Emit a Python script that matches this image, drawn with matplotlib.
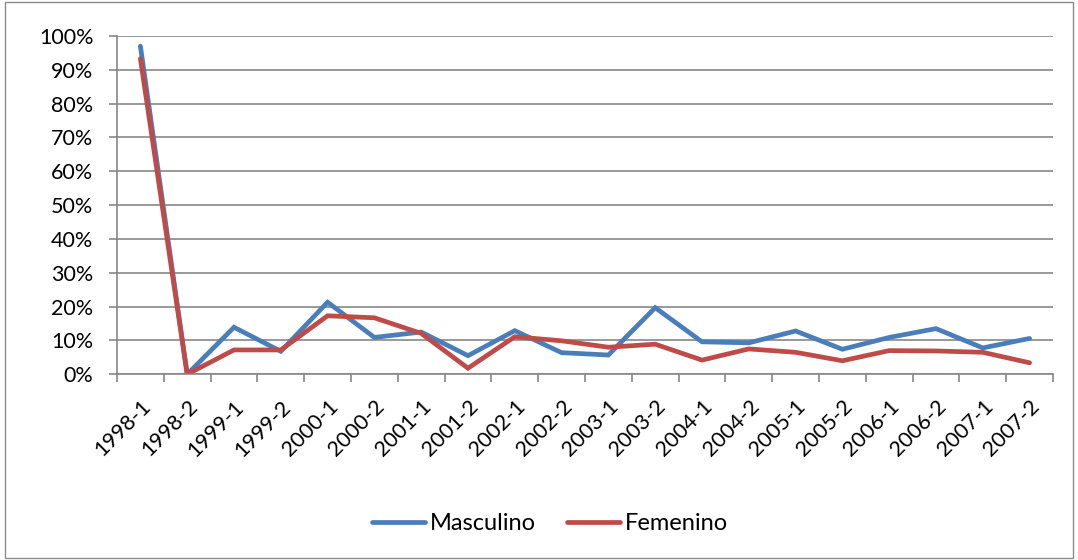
import matplotlib
matplotlib.use("Agg")
import matplotlib.pyplot as plt
from matplotlib.patches import Rectangle
from matplotlib.ticker import FuncFormatter, FixedLocator

plt.rcParams['font.family'] = ['Lato', 'DejaVu Sans']

categories = ["1998-1", "1998-2", "1999-1", "1999-2", "2000-1", "2000-2", "2001-1", "2001-2",
              "2002-1", "2002-2", "2003-1", "2003-2", "2004-1", "2004-2", "2005-1", "2005-2",
              "2006-1", "2006-2", "2007-1", "2007-2"]
masculino = [97.0, 0.0, 13.9, 6.8, 21.3, 10.9, 12.5, 5.5, 12.9, 6.4,
             5.7, 19.7, 9.6, 9.3, 12.8, 7.4, 10.9, 13.5, 7.8, 10.6]
femenino = [93.3, 0.0, 7.2, 7.2, 17.3, 16.7, 12.1, 1.8, 11.1, 9.9,
            8.0, 8.9, 4.2, 7.5, 6.5, 4.0, 7.0, 6.9, 6.5, 3.4]
yticks = list(range(0, 101, 10))

blue = "#4A7EBB"
red = "#BE4B48"
grid_c = "#878787"

fig = plt.figure(figsize=(10.78, 5.60), dpi=100)
fig.patches.append(Rectangle((5 / 1078, 2 / 560), 1068 / 1078, 556 / 560, transform=fig.transFigure,
                             fill=False, edgecolor="#8C8C8C", linewidth=1.0))
ax = fig.add_axes([117 / 1078, 1 - 374.3 / 560, (1053 - 117) / 1078, (374.3 - 36) / 560])

x = [i + 0.5 for i in range(len(categories))]
ax.plot(x, masculino, color=blue, lw=3.4, solid_capstyle='round', solid_joinstyle='miter', label="Masculino")
ax.plot(x, femenino, color=red, lw=3.4, solid_capstyle='round', solid_joinstyle='miter', label="Femenino")

ax.set_xlim(0, len(categories))
ax.set_ylim(0, 100)
ax.set_yticks(yticks)
ax.yaxis.set_major_formatter(FuncFormatter(lambda v, p: f"{int(v)}%"))
ax.grid(axis='y', color=grid_c, lw=1.2)
ax.set_axisbelow(True)

ax.xaxis.set_major_locator(FixedLocator(list(range(len(categories) + 1))))
ax.xaxis.set_major_formatter(FuncFormatter(lambda v, p: ""))
ax.xaxis.set_minor_locator(FixedLocator(x))
ax.set_xticklabels(categories, minor=True, rotation=45, ha='right', va='top', rotation_mode='anchor', fontsize=15.5)
ax.tick_params(axis='x', which='minor', length=0, pad=16)
ax.tick_params(axis='x', which='major', length=6, width=1.2, color=grid_c)
ax.tick_params(axis='y', length=6, width=1.2, color=grid_c, labelsize=15.5, pad=11)

for s in ['top', 'right']:
    ax.spines[s].set_visible(False)
for s in ['left', 'bottom']:
    ax.spines[s].set_color(grid_c)
    ax.spines[s].set_linewidth(1.2)

leg = fig.legend(loc='center', bbox_to_anchor=(550 / 1078, 1 - 524 / 560), ncol=2, frameon=False,
                 fontsize=17, handlelength=2.25, columnspacing=1.3, handletextpad=0.2)

fig.savefig("out.png", dpi=100)
